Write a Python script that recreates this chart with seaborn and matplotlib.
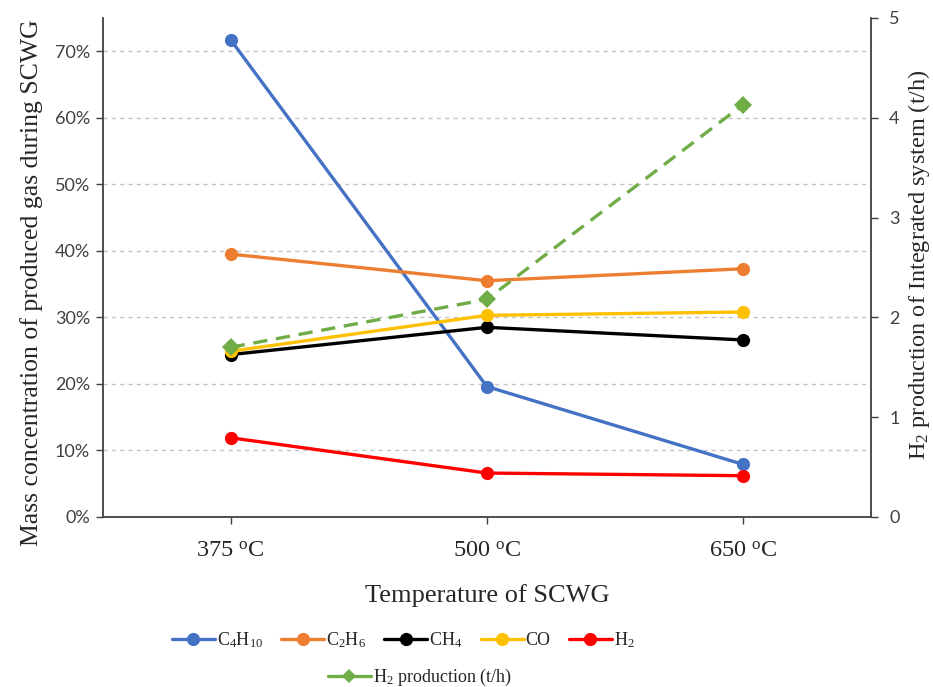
import matplotlib
matplotlib.use("Agg")
import matplotlib.pyplot as plt
import numpy as np
import pandas as pd
import seaborn as sns
from matplotlib.lines import Line2D
from matplotlib.ticker import MultipleLocator, PercentFormatter

# ──── DATA ───────────────────────────────────────────────────────────────────
temperatures = ["375", "500", "650"]
c4h10 = [0.717, 0.196, 0.079]
c2h6 = [0.395, 0.355, 0.373]
ch4 = [0.244, 0.285, 0.266]
co = [0.249, 0.303, 0.308]
h2 = [0.119, 0.066, 0.062]
h2_production = [1.70, 2.18, 4.13]  # t/h, right axis

gas_labels = ["C$_4$H$_{10}$", "C$_2$H$_6$", "CH$_4$", "CO", "H$_2$"]
gas_colors = ["#4472C4", "#ED7D31", "#000000", "#FFC000", "#FF0000"]
prod_color = "#70AD47"

df = pd.DataFrame(
    {"temp": temperatures, "C4H10": c4h10, "C2H6": c2h6, "CH4": ch4, "CO": co, "H2": h2, "prod": h2_production}
)
df["pos"] = np.arange(len(df))

# ──── STYLE ──────────────────────────────────────────────────────────────────
sns.set_style("ticks")
plt.rcParams["font.family"] = ["Liberation Serif", "DejaVu Serif"]
plt.rcParams["mathtext.fontset"] = "custom"
plt.rcParams["mathtext.rm"] = "Liberation Serif"
plt.rcParams["mathtext.default"] = "regular"

fig = plt.figure(figsize=(9.33, 6.87), dpi=100)
ax = fig.add_axes([0.110, 0.2475, 0.8236, 0.7265])
ax2 = ax.twinx()

# gas composition lines
for col, label, color in zip(["C4H10", "C2H6", "CH4", "CO", "H2"], gas_labels, gas_colors):
    sns.lineplot(
        data=df, x="pos", y=col, ax=ax, color=color, marker="o", markersize=9.5,
        markeredgewidth=0, linewidth=2.4, label=label, legend=False,
    )

# H2 production on right axis
sns.lineplot(
    data=df, x="pos", y="prod", ax=ax2, color=prod_color, marker="D", markersize=9,
    markeredgewidth=0, linewidth=2.4, linestyle=(0, (4.3, 2.6)), legend=False,
)

# ──── AXES ───────────────────────────────────────────────────────────────────
edge = "#404040"
ax.set_xlim(-0.5, 2.5)
ax.set_ylim(0, 0.75)
ax.yaxis.set_major_locator(MultipleLocator(0.1))
ax.yaxis.set_major_formatter(PercentFormatter(1.0, decimals=0))
ax.set_xticks(df["pos"])
ax.set_xticklabels([f"{t} $^{{o}}$C" for t in temperatures], fontsize=17.5)
ax.grid(axis="y", linestyle=(0, (3, 3)), color="#c4c4c4", linewidth=1)
ax.set_axisbelow(True)
for lab in ax.get_yticklabels():
    lab.set_family(["Lato", "DejaVu Sans"])
    lab.set_fontsize(13)
    lab.set_color("#404040")
ax.tick_params(axis="y", length=5, width=1, color=edge, pad=4)
ax.tick_params(axis="x", length=5, width=1, color=edge, pad=12)
ax.spines["top"].set_visible(False)
ax.spines["right"].set_visible(False)
ax.spines["left"].set_color(edge)
ax.spines["bottom"].set_color(edge)
ax.spines["left"].set_linewidth(1.3)
ax.spines["bottom"].set_linewidth(1.3)
ax.set_xlabel("Temperature of SCWG", fontsize=19, labelpad=16)
ax.set_ylabel("Mass concentration of produced gas during SCWG", fontsize=18.5)
ax.yaxis.set_label_coords(-0.077, 0.47)

ax2.set_ylim(0, 5)
ax2.yaxis.set_major_locator(MultipleLocator(1))
for side in ["top", "left", "bottom"]:
    ax2.spines[side].set_visible(False)
ax2.spines["right"].set_color(edge)
ax2.spines["right"].set_linewidth(1.3)
ax2.tick_params(axis="y", length=5, width=1, color=edge, pad=8)
for lab in ax2.get_yticklabels():
    lab.set_family(["Lato", "DejaVu Sans"])
    lab.set_fontsize(13)
    lab.set_color("#404040")
ax2.set_ylabel("H$_2$ production of Integrated system (t/h)", fontsize=17.5)
ax2.yaxis.set_label_coords(1.046, 0.505)

# ──── LEGEND ─────────────────────────────────────────────────────────────────
h1, l1 = ax.get_legend_handles_labels()
prod_handle = Line2D([], [], color=prod_color, linewidth=2.4, marker="D", markersize=7, markeredgewidth=0)
fig.legend(
    h1, l1, loc="center", bbox_to_anchor=(0.432, 0.068), ncol=5, frameon=False, fontsize=13,
    handlelength=2.4, columnspacing=1.0, handletextpad=0.1,
)
fig.legend(
    [prod_handle], ["H$_2$ production (t/h)"], loc="center", bbox_to_anchor=(0.45, 0.014), ncol=1,
    frameon=False, fontsize=13, handlelength=2.4, handletextpad=0.1,
)

fig.savefig("out.png", dpi=100)
